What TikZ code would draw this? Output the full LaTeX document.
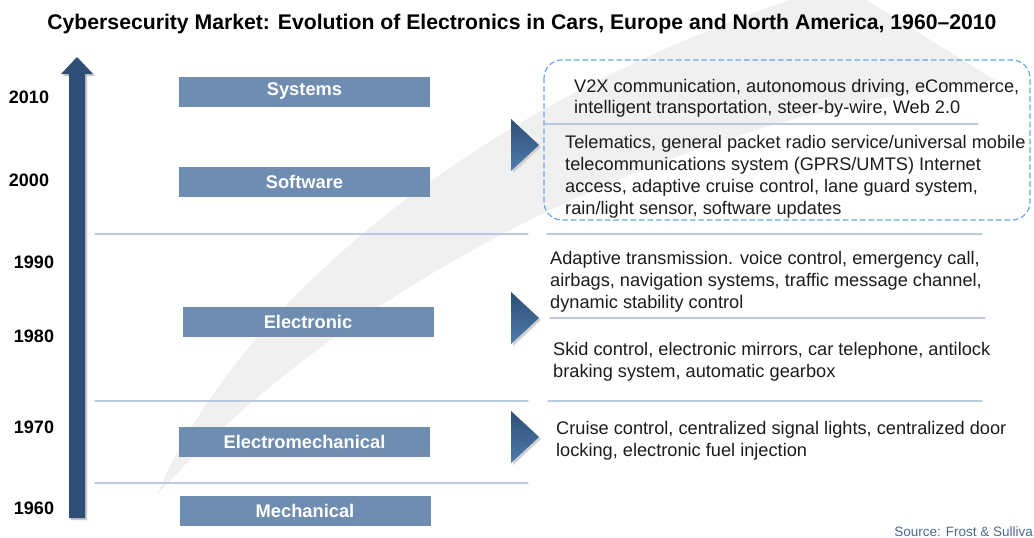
\documentclass[tikz,border=0pt]{standalone}
\usepackage{fontspec}
\setmainfont{Liberation Sans}

\definecolor{stageblue}{HTML}{6E8DB1}
\definecolor{rulegrey}{HTML}{BACADF}
\definecolor{dashblue}{HTML}{6AA6E6}
\definecolor{arrowdark}{HTML}{2E4E75}
\definecolor{arrowlight}{HTML}{4F7CAE}
\definecolor{swoosh}{HTML}{F0F0F0}
\definecolor{textgrey}{HTML}{1C1C1C}
\definecolor{sourceblue}{HTML}{4A6A90}

\begin{document}
\begin{tikzpicture}[x=1pt, y=-1pt, line cap=round,
	stage/.style={fill=stageblue, text=white, inner sep=0pt,
		minimum width=251pt, minimum height=30pt,
		font=\fontsize{18.3}{20}\selectfont\bfseries},
	year/.style={inner sep=0pt, font=\fontsize{18}{20}\selectfont\bfseries},
	detail/.style={anchor=base west, align=left, inner sep=0pt, text=textgrey,
		font=\fontsize{18.2}{22}\selectfont},
	rule/.style={draw=rulegrey, line width=1.1pt},
	groupbox/.style={draw=dashblue, line width=1.2pt, rounded corners=18pt,
		dash pattern=on 5pt off 3.5pt}]

	% constants
	\pgfmathsetmacro{\ruleleft}{95};
	\pgfmathsetmacro{\rulemid}{528};
	\pgfmathsetmacro{\ruleright}{982};
	\pgfmathsetmacro{\tipx}{539};
	\pgfmathsetmacro{\tiphalf}{26};

	% page
	\useasboundingbox (0,0) rectangle (1034,538);

	% background swoosh
	\fill[swoosh] (157,495) .. controls (230,320) and (450,110) .. (820,-10)
		-- (850,-10) -- (995,80)
		.. controls (650,120) and (330,300) .. (157,495) -- cycle;

	% title
	\node[anchor=base, inner sep=0pt, font=\fontsize{21.2}{24}\selectfont\bfseries] (title)
		at (522,29) {Cybersecurity Market: Evolution of Electronics in Cars, Europe and North America, 1960--2010};

	% time axis
	\fill[black!22] (71,520) -- (71,76) -- (63,76) -- (79,59) -- (95,76)
		-- (87,76) -- (87,520) -- cycle;
	\shade[left color=arrowdark, middle color=arrowlight, right color=arrowdark]
		(69,518) -- (69,74) -- (61,74) -- (77,57) -- (93,74)
		-- (85,74) -- (85,518) -- cycle;

	% years
	\node[year] (y2010) at (29,97) {2010};
	\node[year] (y2000) at (29,180) {2000};
	\node[year] (y1990) at (34,262) {1990};
	\node[year] (y1980) at (34,336) {1980};
	\node[year] (y1970) at (34,427) {1970};
	\node[year] (y1960) at (34,508) {1960};

	% separators
	\draw[rule] (\ruleleft,234) -- (\rulemid,234);
	\draw[rule] (\ruleleft,401) -- (\rulemid,401);
	\draw[rule] (\ruleleft,483) -- (\rulemid,483);
	\draw[rule] (547,234) -- (\ruleright,234);
	\draw[rule] (550,318) -- (985,318);
	\draw[rule] (548,401) -- (\ruleright,401);

	% stages
	\node[stage] (systems) at (304.5,91.5) {Systems};
	\node[stage] (software) at (304.5,182) {Software};
	\node[stage] (electronic) at (308,322) {Electronic};
	\node[stage] (electromech) at (304.5,442) {Electromechanical};
	\node[stage] (mechanical) at (305,510.5) {Mechanical};

	% pointers
	\foreach \c in {145,318,437}{
		\fill[black!18] (513,\c-24) -- (\tipx+2,\c+2) -- (513,\c+28) -- cycle;
		\shade[top color=arrowdark, bottom color=arrowlight]
			(511,\c-\tiphalf) -- (\tipx,\c) -- (511,\c+\tiphalf) -- cycle;
	}

	% recent group
	\draw[groupbox] (544,60) rectangle (1030,220);
	\draw[rule] (545,124) -- (978,124);

	% details (anchored at the last line)
	\node[detail, font=\fontsize{18.2}{21}\selectfont] (v2x) at (574,113)
		{V2X communication, autonomous driving, eCommerce,\\
		intelligent transportation, steer-by-wire, Web 2.0};
	\node[detail] (telematics) at (565,214)
		{Telematics, general packet radio service/universal mobile\\
		telecommunications system (GPRS/UMTS) Internet\\
		access, adaptive cruise control, lane guard system,\\
		rain/light sensor, software updates};
	\node[detail] (adaptive) at (550,308)
		{Adaptive transmission. voice control, emergency call,\\
		airbags, navigation systems, traffic message channel,\\
		dynamic stability control};
	\node[detail] (skid) at (553,377)
		{Skid control, electronic mirrors, car telephone, antilock\\
		braking system, automatic gearbox};
	\node[detail] (cruise) at (556,456)
		{Cruise control, centralized signal lights, centralized door\\
		locking, electronic fuel injection};

	% source
	\node[anchor=base east, inner sep=0pt, text=sourceblue,
		font=\fontsize{13.5}{15}\selectfont] (source) at (1033,536)
		{Source: Frost \& Sulliva};

\end{tikzpicture}
\end{document}
